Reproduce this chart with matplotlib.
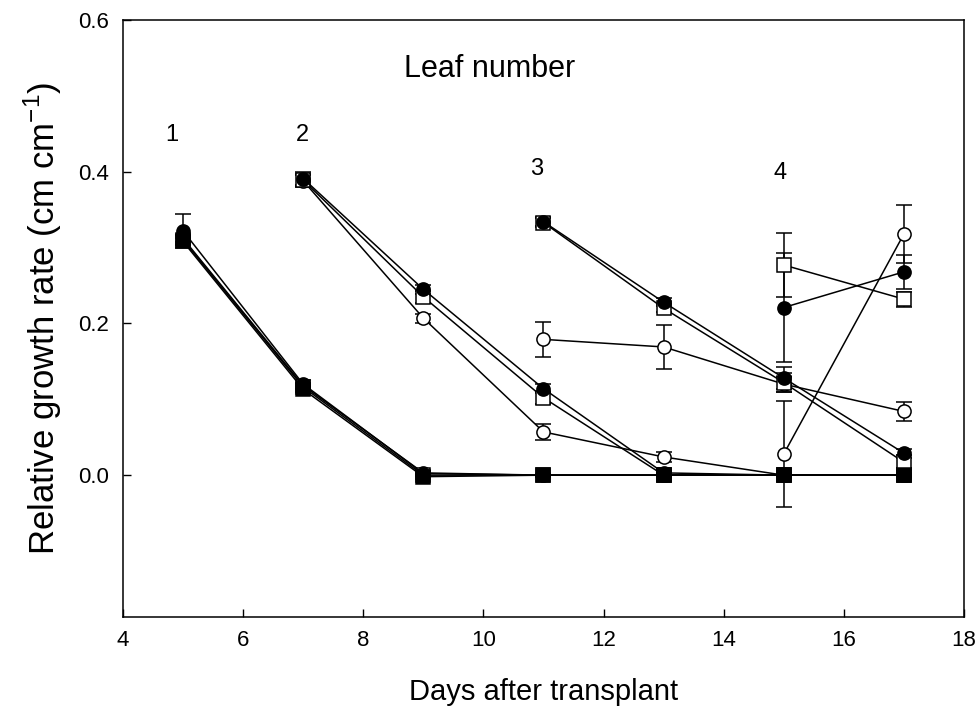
import matplotlib
matplotlib.use("Agg")
import matplotlib.pyplot as plt

plt.rcParams['font.family'] = ['Liberation Sans', 'DejaVu Sans']

# leaf 1 (days 5-17)
days_l1 = [5, 7, 9, 11, 13, 15, 17]
l1_fc = [0.322, 0.120, 0.002, 0.0, 0.0, 0.0, 0.0]
l1_fc_err = [0.022, 0.005, 0.003, 0.002, 0.002, 0.002, 0.002]
l1_oc = [0.312, 0.118, 0.003, 0.0, 0.0, 0.0, 0.0]
l1_oc_err = [0.005, 0.004, 0.003, 0.002, 0.002, 0.002, 0.002]
l1_os = [0.310, 0.116, 0.0, 0.0, 0.0, 0.0, 0.0]
l1_os_err = [0.005, 0.004, 0.003, 0.002, 0.002, 0.002, 0.002]
l1_fs = [0.308, 0.113, -0.002, 0.0, 0.0, 0.0, 0.0]
l1_fs_err = [0.005, 0.004, 0.003, 0.002, 0.002, 0.002, 0.002]

# leaf 2 (days 7-17)
days_l2 = [7, 9, 11, 13, 15, 17]
l2_fc = [0.391, 0.245, 0.114, 0.003, 0.0, 0.0]
l2_fc_err = [0.008, 0.006, 0.006, 0.003, 0.002, 0.002]
l2_os = [0.389, 0.235, 0.102, 0.0, 0.0, 0.0]
l2_os_err = [0.008, 0.008, 0.008, 0.003, 0.002, 0.002]
l2_oc = [0.388, 0.207, 0.057, 0.024, 0.0, 0.0]
l2_oc_err = [0.008, 0.006, 0.010, 0.006, 0.002, 0.002]

# leaf 3 (days 11-17)
days_l3 = [11, 13, 15, 17]
l3_fc = [0.334, 0.228, 0.128, 0.029]
l3_fc_err = [0.006, 0.005, 0.015, 0.006]
l3_os = [0.333, 0.220, 0.122, 0.017]
l3_os_err = [0.006, 0.005, 0.013, 0.010]
l3_oc = [0.179, 0.169, 0.120, 0.084]
l3_oc_err = [0.023, 0.029, 0.010, 0.012]

# leaf 4 (days 15-17)
days_l4 = [15, 17]
l4_os = [0.277, 0.232]
l4_os_err = [0.042, 0.010]
l4_fc = [0.221, 0.268]
l4_fc_err = [0.072, 0.022]
l4_oc = [0.028, 0.318]
l4_oc_err = [0.070, 0.038]

leaf_labels = ['1', '2', '3', '4']
leaf_label_x = [4.82, 6.98, 10.89, 14.94]
leaf_label_y = [0.449, 0.449, 0.403, 0.398]

styles = {
    'oc': dict(marker='o', mfc='white'),
    'fc': dict(marker='o', mfc='black'),
    'os': dict(marker='s', mfc='white'),
    'fs': dict(marker='s', mfc='black'),
}

fig = plt.figure(figsize=(9.79, 7.21), dpi=100)
ax = fig.add_axes([0.1256, 0.1442, 0.8591, 0.8281])


def draw(x, y, err, kind, z):
    st = styles[kind]
    ax.errorbar(x, y, yerr=err, color='black', lw=1.1, elinewidth=1.1,
                capsize=6, capthick=1.1, marker=st['marker'], ms=9.5,
                mfc=st['mfc'], mec='black', mew=1.1, zorder=z)


series = [
    (days_l1, l1_oc, l1_oc_err, 'oc'),
    (days_l1, l1_os, l1_os_err, 'os'),
    (days_l1, l1_fc, l1_fc_err, 'fc'),
    (days_l2, l2_oc, l2_oc_err, 'oc'),
    (days_l2, l2_os, l2_os_err, 'os'),
    (days_l2, l2_fc, l2_fc_err, 'fc'),
    (days_l3, l3_oc, l3_oc_err, 'oc'),
    (days_l3, l3_os, l3_os_err, 'os'),
    (days_l3, l3_fc, l3_fc_err, 'fc'),
    (days_l4, l4_oc, l4_oc_err, 'oc'),
    (days_l4, l4_os, l4_os_err, 'os'),
    (days_l4, l4_fc, l4_fc_err, 'fc'),
    (days_l1, l1_fs, l1_fs_err, 'fs'),
]
for i, (x, y, e, k) in enumerate(series):
    draw(x, y, e, k, 3 + i * 0.01)

ax.text(10.1, 0.535, 'Leaf number', fontsize=22, ha='center', va='center')
for lab, lx, ly in zip(leaf_labels, leaf_label_x, leaf_label_y):
    ax.text(lx, ly, lab, fontsize=17, ha='center', va='center')

ax.set_xlim(4, 18)
ax.set_ylim(-0.187, 0.6)
ax.set_xticks(range(4, 19, 2))
ax.set_yticks([0.0, 0.2, 0.4, 0.6])
ax.set_yticklabels(['0.0', '0.2', '0.4', '0.6'])
ax.tick_params(direction='in', length=6, width=1, labelsize=16,
               top=False, right=False)
ax.tick_params(axis='x', pad=9)
ax.tick_params(axis='y', pad=10)
for sp in ax.spines.values():
    sp.set_linewidth(1.1)

ax.set_xlabel('Days after transplant', fontsize=21, labelpad=20)
ax.set_ylabel('Relative growth rate (cm cm$^{\\mathregular{-1}}$)', fontsize=25, labelpad=10)

fig.savefig('out.png', dpi=100)
